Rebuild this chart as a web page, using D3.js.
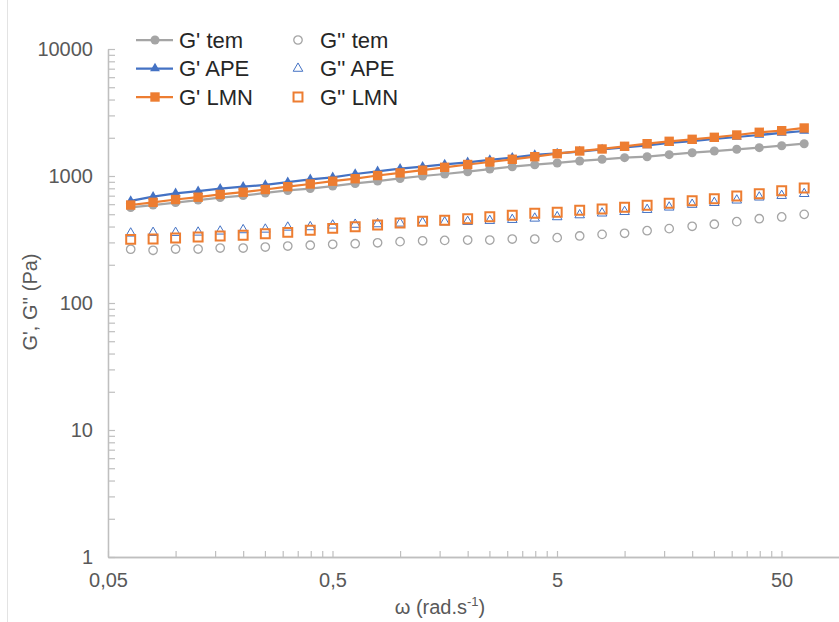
<!DOCTYPE html>
<html><head><meta charset="utf-8">
<script src="https://cdn.jsdelivr.net/npm/d3@7/dist/d3.min.js"></script>
<style>
html,body{margin:0;padding:0;background:#fff;}
svg text{font-family:"Liberation Sans",Arial,sans-serif;}
</style></head>
<body><svg id="chart" width="839" height="622"></svg>
<script>
// angular frequency (rad/s)
const omega = [0.0631,0.0794,0.1,0.126,0.158,0.2,0.251,0.316,0.398,0.501,0.631,0.794,1,1.26,1.58,2,2.51,3.16,3.98,5.01,6.31,7.94,10,12.6,15.8,20,25.1,31.6,39.8,50.1,63.1];
const gpTem  = [565,591,618,647,677,702,735,769,797,834,873,913,956,1000,1037,1081,1135,1184,1227,1266,1313,1354,1394,1419,1472,1526,1573,1623,1671,1732,1796];
const gpAPE  = [636,687,731,759,796,824,852,894,942,977,1037,1089,1141,1184,1232,1282,1337,1394,1464,1504,1559,1617,1677,1745,1819,1886,1956,2028,2103,2181,2261];
const gpLMN  = [591,621,653,681,716,745,783,824,865,910,952,1009,1058,1111,1171,1232,1289,1354,1419,1498,1573,1632,1714,1796,1876,1945,2017,2103,2209,2274,2388];
const gppTem = [265,260,266,266,271,271,276,281,285,290,293,298,304,309,311,313,313,319,319,327,337,347,354,371,385,402,417,437,461,476,499];
const gppAPE = [354,358,358,360,367,376,380,394,397,409,415,419,424,429,433,437,445,453,464,476,493,509,523,543,567,596,616,644,680,700,725];
const gppLMN = [317,319,325,331,337,341,351,360,374,387,399,411,427,440,448,461,478,490,509,518,537,550,567,588,610,639,663,696,725,766,804];
const xTicks = [0.05,0.5,5,50];
const xTickLabels = ["0,05","0,5","5","50"];
const yTicks = [1,10,100,1000,10000];
const yTickLabels = ["1","10","100","1000","10000"];
const seriesNames = ["G' tem","G' APE","G' LMN","G'' tem","G'' APE","G'' LMN"];

const svg = d3.select("#chart");
const grey="#A5A5A5", blue="#4472C4", orange="#ED7D31";
const x = d3.scaleLog().domain([0.05,500]).range([108,1006]);
const y = d3.scaleLog().domain([1,10000]).range([557,49]);

// faint chart border line at left
svg.append("line").attr("x1",7.5).attr("x2",7.5).attr("y1",0).attr("y2",622).attr("stroke","#e3e3e3").attr("stroke-width",1);

// minor ticks
const xMinor=[], yMinor=[];
[0.05,0.5,5,50].forEach(d=>{for(let m=2;m<=9;m++){xMinor.push(d*m);}});
[1,10,100,1000].forEach(d=>{for(let m=2;m<=9;m++){yMinor.push(d*m);}});

const axisColor="#bfbfbf", labelColor="#595959";
const gx = svg.append("g").attr("transform","translate(0,557)");
gx.call(d3.axisBottom(x).tickValues(xMinor).tickSizeInner(-6).tickSizeOuter(0).tickFormat(""));
const gx2 = svg.append("g").attr("transform","translate(0,557)");
gx2.call(d3.axisBottom(x).tickValues(xTicks).tickSizeInner(-6).tickSizeOuter(0).tickPadding(16).tickFormat((d,i)=>xTickLabels[i]));
const gy = svg.append("g").attr("transform","translate(108,0)");
gy.call(d3.axisLeft(y).tickValues(yMinor).tickSizeInner(-7).tickSizeOuter(0).tickFormat(""));
const gy2 = svg.append("g").attr("transform","translate(108,0)");
gy2.call(d3.axisLeft(y).tickValues(yTicks).tickSizeInner(-7).tickSizeOuter(0).tickPadding(15).tickFormat((d,i)=>yTickLabels[i]));
svg.selectAll(".domain").attr("stroke",axisColor).attr("stroke-width",1.3);
svg.selectAll(".tick line").attr("stroke",axisColor).attr("stroke-width",1.2);
svg.selectAll(".tick text").attr("fill",labelColor).style("font-size","20px");

// axis titles
const xt = svg.append("text").attr("x",440).attr("y",614).attr("text-anchor","middle").attr("fill",labelColor).style("font-size","20px");
xt.append("tspan").text("ω (rad.s");
xt.append("tspan").attr("dy",-8).style("font-size","13px").text("-1");
xt.append("tspan").attr("dy",8).text(")");
svg.append("text").attr("transform","translate(37,302) rotate(-90)").attr("text-anchor","middle").attr("fill",labelColor).style("font-size","20px").text("G', G'' (Pa)");

const pts = vals => omega.map((w,i)=>[x(w), y(vals[i])]);
const line = d3.line();
const plot = svg.append("g");

function drawLine(vals,color){
  plot.append("path").attr("d",line(pts(vals))).attr("fill","none").attr("stroke",color).attr("stroke-width",2.25);
}
const sym = {
  circle: d3.symbol().type(d3.symbolCircle),
  square: d3.symbol().type(d3.symbolSquare),
  triangle: d3.symbol().type(d3.symbolTriangle)
};
function drawMarkers(vals,type,size,fill,stroke,sw){
  plot.selectAll(null).data(pts(vals)).enter().append("path")
    .attr("d",sym[type].size(size)())
    .attr("transform",d=>`translate(${d[0]},${d[1]})`)
    .attr("fill",fill).attr("stroke",stroke).attr("stroke-width",sw);
}
// G' series
drawLine(gpTem,grey); drawMarkers(gpTem,"circle",64,grey,"none",0);
drawLine(gpAPE,blue); drawMarkers(gpAPE,"triangle",42,blue,"none",0);
drawLine(gpLMN,orange); drawMarkers(gpLMN,"square",88,orange,"none",0);
// G'' series
drawMarkers(gppTem,"circle",56,"none",grey,1.3);
drawMarkers(gppAPE,"triangle",40,"none",blue,1);
drawMarkers(gppLMN,"square",80,"none",orange,2);

// legend
const leg = svg.append("g");
const rows=[40,68.5,97];
const legItems=[
 {name:seriesNames[0],col:0,row:0,type:"circle",size:64,fill:grey,stroke:"none",sw:0,line:grey},
 {name:seriesNames[1],col:0,row:1,type:"triangle",size:42,fill:blue,stroke:"none",sw:0,line:blue},
 {name:seriesNames[2],col:0,row:2,type:"square",size:88,fill:orange,stroke:"none",sw:0,line:orange},
 {name:seriesNames[3],col:1,row:0,type:"circle",size:56,fill:"none",stroke:grey,sw:1.3,line:null},
 {name:seriesNames[4],col:1,row:1,type:"triangle",size:40,fill:"none",stroke:blue,sw:1,line:null},
 {name:seriesNames[5],col:1,row:2,type:"square",size:80,fill:"none",stroke:orange,sw:2,line:null}
];
legItems.forEach(it=>{
  const cy=rows[it.row];
  const mx = it.col===0?155:298;
  const tx = it.col===0?179:320;
  if(it.line){leg.append("line").attr("x1",136).attr("x2",173).attr("y1",cy).attr("y2",cy).attr("stroke",it.line).attr("stroke-width",2.25);}
  leg.append("path").attr("d",sym[it.type].size(it.size)()).attr("transform",`translate(${mx},${cy})`)
     .attr("fill",it.fill).attr("stroke",it.stroke).attr("stroke-width",it.sw);
  leg.append("text").attr("x",tx).attr("y",cy+7.5).attr("fill","#262626").style("font-size","22px").text(it.name);
});
</script></body></html>
